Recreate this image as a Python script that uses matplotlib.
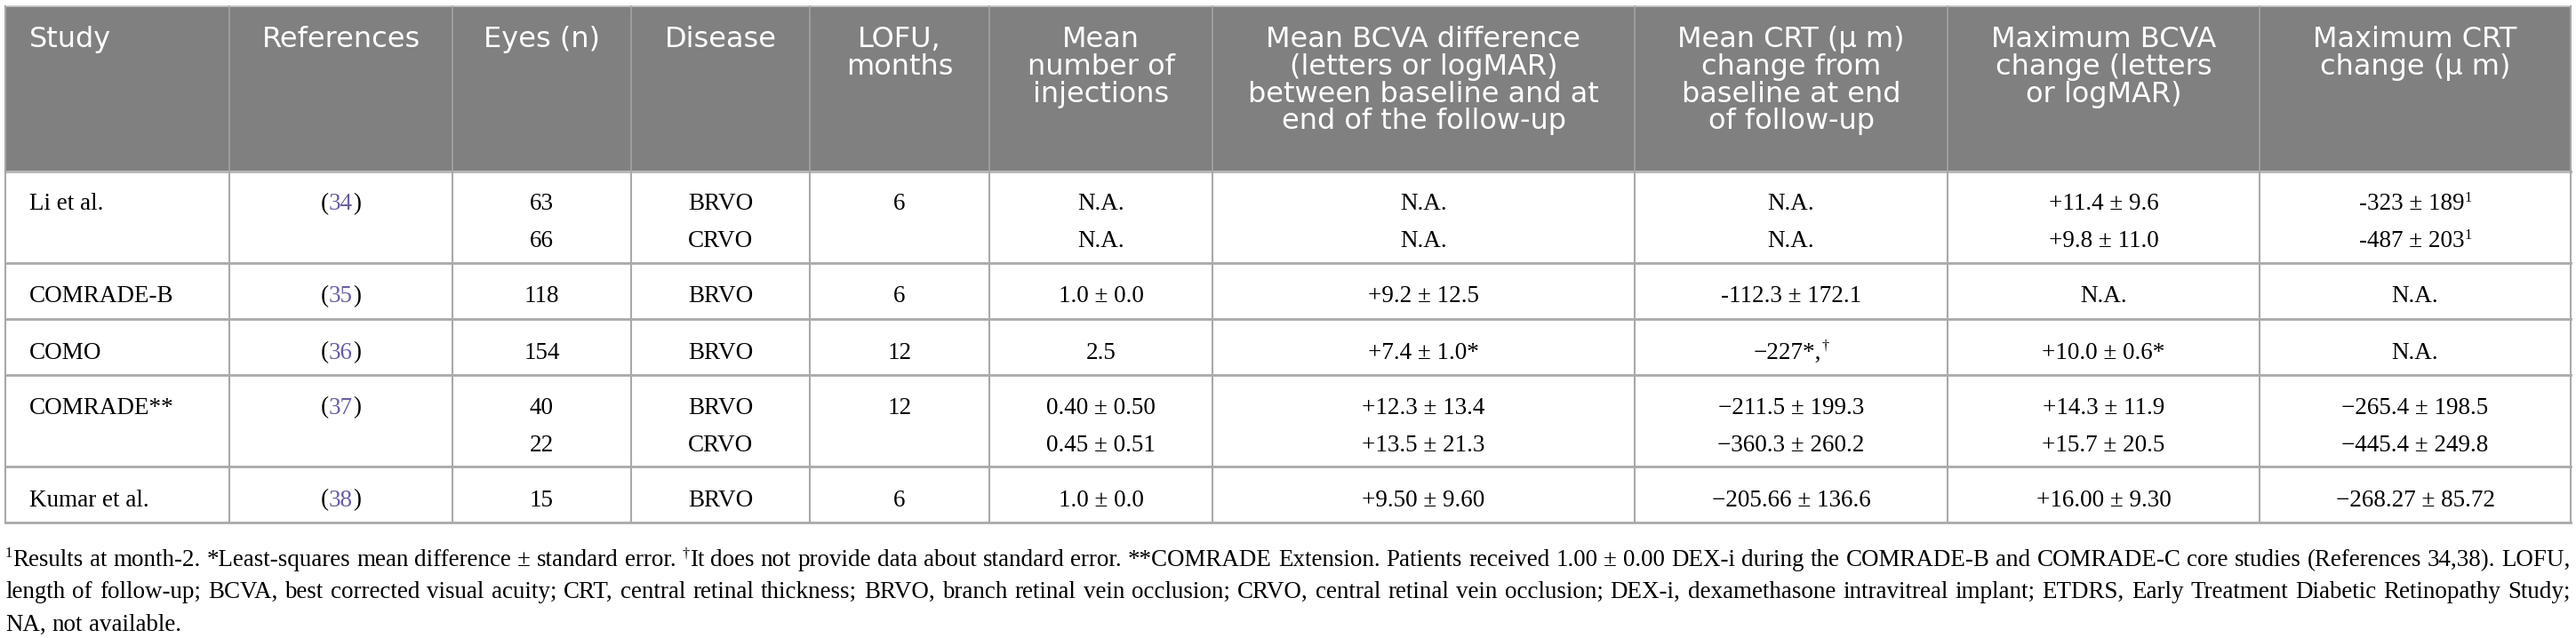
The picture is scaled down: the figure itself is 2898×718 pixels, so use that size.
import matplotlib.pyplot as plt
from matplotlib.patches import Rectangle
from matplotlib.font_manager import FontProperties

# table content
headers = ["Study", "References", "Eyes (n)", "Disease", "LOFU,\nmonths",
           "Mean\nnumber of\ninjections",
           "Mean BCVA difference\n(letters or logMAR)\nbetween baseline and at\nend of the follow-up",
           "Mean CRT (\u03bc m)\nchange from\nbaseline at end\nof follow-up",
           "Maximum BCVA\nchange (letters\nor logMAR)",
           "Maximum CRT\nchange (\u03bc m)"]

studies = ["Li et al.", "COMRADE-B", "COMO", "COMRADE**", "Kumar et al."]
refs = ["34", "35", "36", "37", "38"]
eyes = [["63", "66"], ["118"], ["154"], ["40", "22"], ["15"]]
disease = [["BRVO", "CRVO"], ["BRVO"], ["BRVO"], ["BRVO", "CRVO"], ["BRVO"]]
lofu = [["6"], ["6"], ["12"], ["12"], ["6"]]
injections = [["N.A.", "N.A."], ["1.0 \u00b1 0.0"], ["2.5"],
              ["0.40 \u00b1 0.50", "0.45 \u00b1 0.51"], ["1.0 \u00b1 0.0"]]
bcva_diff = [["N.A.", "N.A."], ["+9.2 \u00b1 12.5"], ["+7.4 \u00b1 1.0*"],
             ["+12.3 \u00b1 13.4", "+13.5 \u00b1 21.3"], ["+9.50 \u00b1 9.60"]]
crt_change = [["N.A.", "N.A."], ["-112.3 \u00b1 172.1"], ["\u2212227*,^\u2020"],
              ["\u2212211.5 \u00b1 199.3", "\u2212360.3 \u00b1 260.2"],
              ["\u2212205.66 \u00b1 136.6"]]
max_bcva = [["+11.4 \u00b1 9.6", "+9.8 \u00b1 11.0"], ["N.A."], ["+10.0 \u00b1 0.6*"],
            ["+14.3 \u00b1 11.9", "+15.7 \u00b1 20.5"], ["+16.00 \u00b1 9.30"]]
max_crt = [["-323 \u00b1 189^1", "-487 \u00b1 203^1"], ["N.A."], ["N.A."],
           ["\u2212265.4 \u00b1 198.5", "\u2212445.4 \u00b1 249.8"],
           ["\u2212268.27 \u00b1 85.72"]]

footnote = [
    "^1Results at month-2. *Least-squares mean difference \u00b1 standard error. "
    "^\u2020It does not provide data about standard error. **COMRADE Extension. "
    "Patients received 1.00 \u00b1 0.00 DEX-i during the COMRADE-B and COMRADE-C "
    "core studies (References 34,38). LOFU,",
    "length of follow-up; BCVA, best corrected visual acuity; CRT, central retinal "
    "thickness; BRVO, branch retinal vein occlusion; CRVO, central retinal vein "
    "occlusion; DEX-i, dexamethasone intravitreal implant; ETDRS, Early Treatment "
    "Diabetic Retinopathy Study;",
    "NA, not available.",
]

# layout (pixels)
W, H = 2898, 718
col_edges = [6, 258, 509, 710, 911, 1113, 1364, 1839, 2191, 2542, 2892]
header_top = 7
row_edges = [193, 296, 359, 422, 525, 588]
line_pitch = 42
PT = 0.72  # points per pixel at dpi 100

SERIF = "Liberation Serif"
SANS = "DejaVu Sans"
body_size = 19.5
head_size = 23
head_gray = "#808080"
grid = "#a9a9a9"
link = "#6a5ca6"

fig = plt.figure(figsize=(W / 100, H / 100), dpi=100)
ax = fig.add_axes([0, 0, 1, 1])
ax.set_xlim(0, W)
ax.set_ylim(H, 0)
ax.axis("off")
renderer = fig.canvas.get_renderer()


def text_w(s, size, family=SERIF):
    fp = FontProperties(family=family, size=size)
    w, h, d = renderer.get_text_width_height_descent(s, fp, ismath=False)
    return w


def parse(s, color="black"):
    # '^x' marks the single character x as superscript
    out, buf, i = [], "", 0
    while i < len(s):
        if s[i] == "^":
            if buf:
                out.append((buf, False, color))
                buf = ""
            out.append((s[i + 1], True, color))
            i += 2
        else:
            buf += s[i]
            i += 1
    if buf:
        out.append((buf, False, color))
    return out


def pieces_w(pieces, size):
    return sum(text_w(t, size * 0.6 if sup else size) for t, sup, c in pieces)


def draw_rich(x, y, pieces, size, ha="center"):
    total = pieces_w(pieces, size)
    x0 = x - total / 2 if ha == "center" else x
    for t, sup, c in pieces:
        sz = size * 0.6 if sup else size
        yy = y - size / PT * 0.36 if sup else y
        ax.text(x0, yy, t, fontsize=sz, family=SERIF, color=c,
                ha="left", va="baseline")
        x0 += text_w(t, sz)


# header block
ax.add_patch(Rectangle((col_edges[0], header_top), col_edges[-1] - col_edges[0],
                       row_edges[0] - header_top, facecolor=head_gray,
                       edgecolor="none", zorder=0))
ax.plot([col_edges[0], col_edges[-1]], [header_top, header_top],
        color="#c8c8c8", lw=1.2)
for x in col_edges[1:-1]:
    ax.plot([x, x], [header_top, row_edges[0]], color="#a6a6a6", lw=1.1)

for i, h in enumerate(headers):
    left, right = col_edges[i], col_edges[i + 1]
    for k, line in enumerate(h.split("\n")):
        yb = 53 + k * 30.8
        if i == 0:
            ax.text(left + 27, yb, line, fontsize=head_size, family=SANS,
                    color="white", ha="left", va="baseline")
        else:
            ax.text((left + right) / 2, yb, line, fontsize=head_size,
                    family=SANS, color="white", ha="center", va="baseline")

# grid lines of the body
ax.plot([col_edges[0], col_edges[-1]], [row_edges[0], row_edges[0]],
        color="#b8b8b8", lw=2.2)
for y in row_edges[1:]:
    ax.plot([col_edges[0], col_edges[-1]], [y, y], color=grid, lw=2.0)
for x in col_edges:
    ax.plot([x, x], [row_edges[0], row_edges[-1]], color=grid, lw=1.5)
for x in (col_edges[0], col_edges[-1]):
    ax.plot([x, x], [header_top, row_edges[0]], color="#a6a6a6", lw=1.5)

# body cells
columns = [eyes, disease, lofu, injections, bcva_diff, crt_change,
           max_bcva, max_crt]
for r in range(len(studies)):
    top, bot = row_edges[r], row_edges[r + 1]
    n = max(len(col[r]) for col in columns)
    y0 = top + (bot - top - (n - 1) * line_pitch) / 2 + 13
    draw_rich(col_edges[0] + 27, y0, parse(studies[r]), body_size, ha="left")
    cx = (col_edges[1] + col_edges[2]) / 2
    draw_rich(cx, y0, [("(", False, "black"), (refs[r], False, link),
                       (")", False, "black")], body_size)
    for j, col in enumerate(columns):
        cx = (col_edges[j + 2] + col_edges[j + 3]) / 2
        for k, val in enumerate(col[r]):
            draw_rich(cx, y0 + k * line_pitch, parse(val), body_size)

# footnote, first two lines justified
fx0, fx1 = col_edges[0], col_edges[-1]
space = text_w("a b", body_size) - text_w("ab", body_size)
natural = sum(pieces_w(parse(w), body_size) for w in footnote[0].split()) \
    + space * (len(footnote[0].split()) - 1)
fn_size = min(body_size, body_size * (fx1 - fx0) / natural)
fn_base = [637, 673, 710]
for k, line in enumerate(footnote):
    words = line.split()
    widths = [pieces_w(parse(w), fn_size) for w in words]
    if k < 2:
        gap = (fx1 - fx0 - sum(widths)) / (len(words) - 1)
    else:
        gap = text_w("a b", fn_size) - text_w("ab", fn_size)
    x = fx0
    for w, ww in zip(words, widths):
        draw_rich(x, fn_base[k], parse(w), fn_size, ha="left")
        x += ww + gap

fig.savefig("out.png", dpi=100)
